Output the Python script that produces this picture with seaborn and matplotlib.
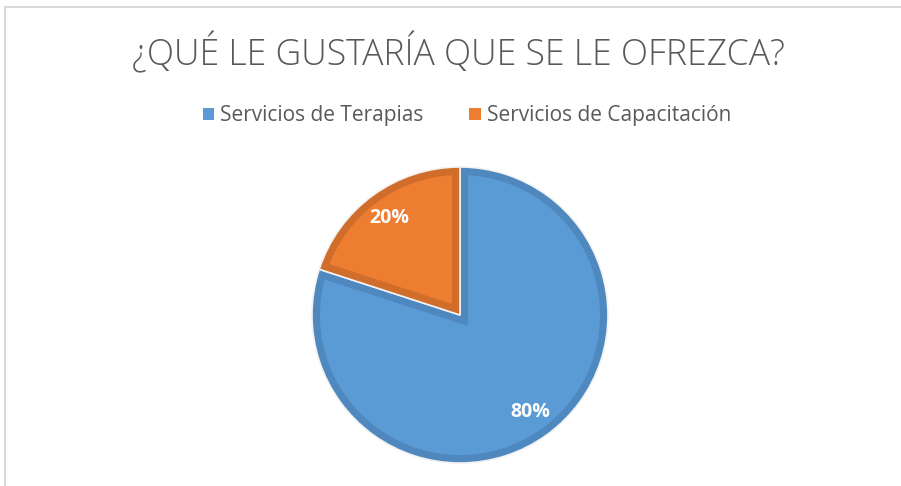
import numpy as np
import matplotlib.pyplot as plt
import seaborn as sns
from matplotlib.lines import Line2D
from matplotlib.patches import Patch, Polygon

# datos
categorias = ['Servicios de Terapias', 'Servicios de Capacitación']
porcentajes = [80, 20]
titulo = '¿QUÉ LE GUSTARÍA QUE SE LE OFREZCA?'

colores = ['#5B9BD5', '#ED7D31']
bordes = ['#4E88BE', '#D06D2B']

sns.set_theme(style='white')
plt.rcParams['font.family'] = ['Open Sans', 'DejaVu Sans']

W, H = 901, 486
fig = plt.figure(figsize=(W / 100, H / 100), dpi=100)

# pie centrado en (460, 315) px, radio 148 px
cx, cy, r = 460, 315, 148
ax = fig.add_axes([(cx - r) / W, (H - cy - r) / H, 2 * r / W, 2 * r / H])

# cuñas con el color del borde (más oscuro)
wedges, textos, autotextos = ax.pie(
    porcentajes, colors=bordes, startangle=90, counterclock=False,
    autopct='%1.0f%%', pctdistance=0.81, radius=1,
    wedgeprops=dict(linewidth=1.2, edgecolor='#F2F2F2'),
    textprops=dict(color='white', fontsize=14, fontweight='bold'))


def cuna_interior(w, d):
    # cuña reducida hacia dentro una distancia d
    t1, t2 = np.radians(w.theta1), np.radians(w.theta2)
    R = w.r
    b = (t1 + t2) / 2
    p = d / np.sin((t2 - t1) / 2) * np.array([np.cos(b), np.sin(b)])
    s = np.sqrt((R - d) ** 2 - d ** 2)
    delta = np.arctan2(d, s)
    arco = np.linspace(t1 + delta, t2 - delta, 200)
    pts = np.column_stack([(R - d) * np.cos(arco), (R - d) * np.sin(arco)])
    return np.vstack([p, pts])


grosor = 8 / r
for w, c in zip(wedges, colores):
    ax.add_patch(Polygon(cuna_interior(w, grosor), closed=True,
                         facecolor=c, edgecolor='none', zorder=1.5))
for t in autotextos:
    t.set_zorder(3)

ax.set_xlim(-1, 1)
ax.set_ylim(-1, 1)
ax.axis('off')

fig.text(458 / W, 1 - 53 / H, titulo, ha='center', va='center',
         fontsize=25.6, color='#595959', fontweight='light')

handles = [Patch(facecolor=c, edgecolor='none') for c in colores]
fig.legend(handles, categorias, loc='center', bbox_to_anchor=(467 / W, 1 - 116 / H),
           ncol=2, frameon=False, fontsize=15, labelcolor='#595959',
           handlelength=0.55, handleheight=0.55, handletextpad=0.3,
           columnspacing=2.2)

# marco del gráfico
fig.add_artist(Line2D([4.5 / W, 4.5 / W], [0, 1 - 7 / H], color='#D9D9D9', lw=1.5,
                      transform=fig.transFigure))
fig.add_artist(Line2D([4.5 / W, 1], [1 - 7 / H, 1 - 7 / H], color='#D9D9D9', lw=1.5,
                      transform=fig.transFigure))

fig.savefig('out.png', dpi=100)
